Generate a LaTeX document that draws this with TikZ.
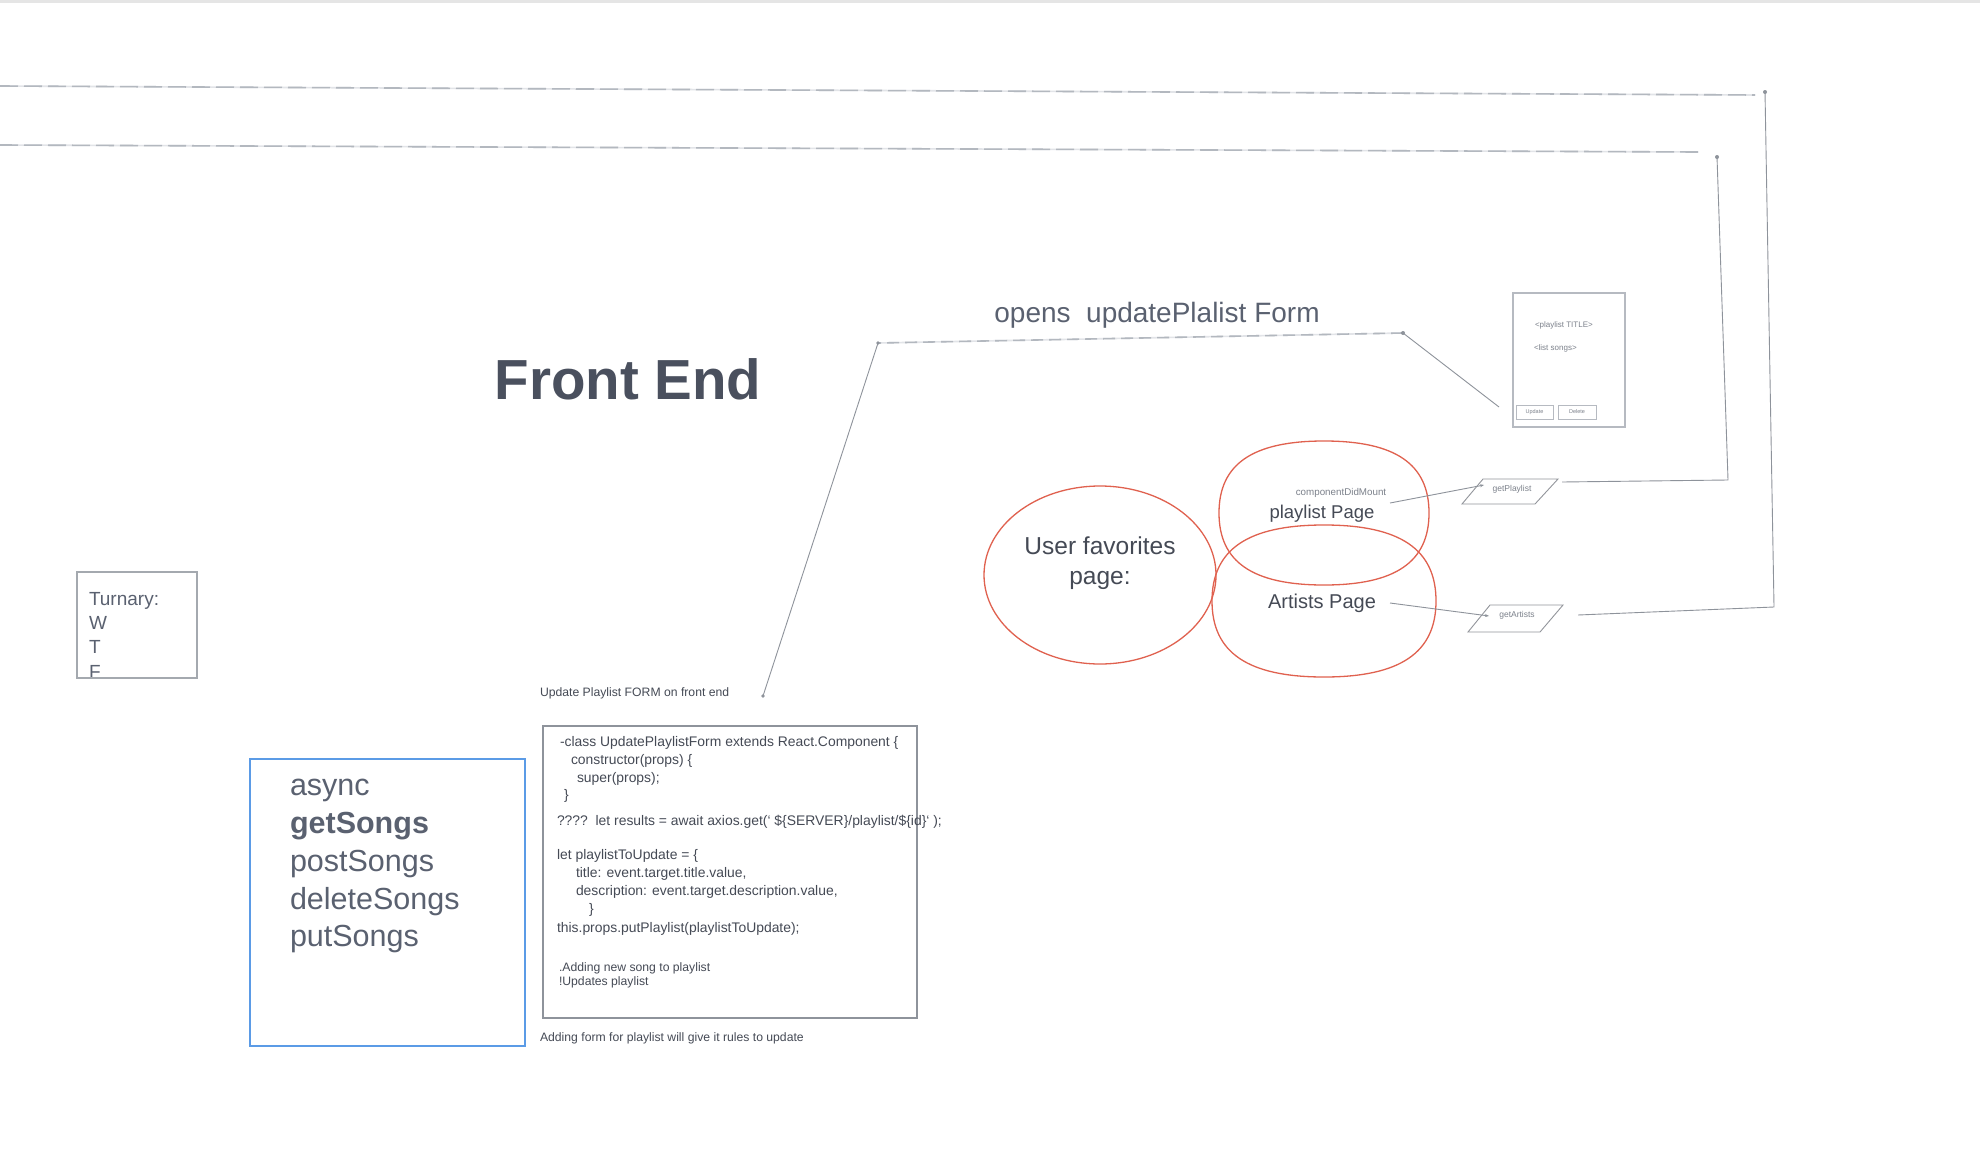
\documentclass[tikz,border=0pt]{standalone}
\usepackage{fontspec}
\setmainfont{Liberation Sans}
\usetikzlibrary{arrows.meta}
\definecolor{slate}{HTML}{4A505E}
\definecolor{listgray}{HTML}{5A6170}
\definecolor{codegray}{HTML}{454A55}
\definecolor{lightline}{HTML}{E2E4E8}
\definecolor{midline}{HTML}{B3B8BF}
\definecolor{darkline}{HTML}{8E939B}
\definecolor{ovalred}{HTML}{E0614F}
\definecolor{boxblue}{HTML}{5B9BE6}
\definecolor{mockgray}{HTML}{B6BAC1}
\definecolor{tinygray}{HTML}{7C818B}
\newcommand\fsz[1]{\fontsize{#1}{#1}\selectfont}
\newcommand\softoval[4]{%
  \draw[redoval] (#1+#3,#2) .. controls (#1+#3,#2-0.68*#4) and (#1+0.68*#3,#2-#4) .. (#1,#2-#4)
   .. controls (#1-0.68*#3,#2-#4) and (#1-#3,#2-0.68*#4) .. (#1-#3,#2)
   .. controls (#1-#3,#2+0.68*#4) and (#1-0.68*#3,#2+#4) .. (#1,#2+#4)
   .. controls (#1+0.68*#3,#2+#4) and (#1+#3,#2+0.68*#4) .. cycle;}
\begin{document}
\begin{tikzpicture}[x=1pt,y=-1pt,
  txt/.style={inner sep=0pt, outer sep=0pt},
  codeline/.style={txt, anchor=mid west, text=codegray, font=\fsz{13.9}},
  smallnote/.style={txt, anchor=mid west, text=codegray, font=\fsz{12.2}},
  songitem/.style={txt, anchor=mid west, text=listgray, font=\fsz{30.5}},
  turn/.style={txt, anchor=mid west, text=listgray, font=\fsz{19}},
  redoval/.style={draw=ovalred, line width=1.3pt},
  dashline/.style={draw=midline, line width=1.6pt, dash pattern=on 18pt off 6pt},
  underline/.style={draw=lightline, line width=1.6pt},
  thinline/.style={draw=darkline, line width=0.9pt},
  dotend/.style={fill=darkline, draw=none},
  smallarrow/.style={thinline, -{Stealth[length=4pt,width=3pt]}}
]
\useasboundingbox (0,0) rectangle (1980,1156);
\fill[white] (0,0) rectangle (1980,1156);
\fill[black!10] (0,0) rectangle (1980,3);

% ---------- long return lines ----------
\coordinate (l1a) at (0,86);
\coordinate (l1b) at (1755,95);
\coordinate (l1c) at (1765,92);
\coordinate (l1d) at (1774,607);
\coordinate (l1e) at (1578,615);
\coordinate (l2a) at (0,145);
\coordinate (l2b) at (1698,152);
\coordinate (l2c) at (1717,157);
\coordinate (l2d) at (1728,480);
\coordinate (l2e) at (1562,482);
\draw[underline] (l1a) -- (l1b);
\draw[dashline] (l1a) -- (l1b);
\draw[underline] (l2a) -- (l2b);
\draw[dashline] (l2a) -- (l2b);
\draw[thinline] (l1c) -- (l1d) -- (l1e);
\draw[thinline] (l2c) -- (l2d) -- (l2e);
\fill[dotend] (l1c) circle (2pt);
\fill[dotend] (l2c) circle (2pt);

% ---------- Front End ----------
\node[txt, text=slate, font=\fsz{56.5}\bfseries] (fe) at (628,379) {Front End};

% ---------- opens updatePlalist Form ----------
\node[txt, text=listgray, font=\fsz{28}] (opens) at (1157,315) {opens\ \ updatePlalist Form};
\coordinate (opR) at (1403,333);
\coordinate (opL) at (878,343);
\coordinate (opD) at (763,696);
\coordinate (mockpt) at (1499,407);
\draw[underline] (opR) -- (opL);
\draw[dashline, dash pattern=on 12pt off 6pt] (opR) -- (opL);
\draw[thinline] (opL) -- (opD);
\draw[thinline] (opR) -- (mockpt);
\fill[dotend] (opR) circle (2pt);
\fill[dotend] (opL) circle (1.8pt);
\fill[dotend] (opD) circle (1.8pt);

% ---------- page mock ----------
\draw[mockgray, line width=1.4pt] (1513,293) rectangle (1625,427);
\node[txt, anchor=mid west, text=tinygray, font=\fsz{8}] (mtitle) at (1535,325) {<playlist TITLE>};
\node[txt, anchor=mid west, text=tinygray, font=\fsz{8}] (msongs) at (1534,348) {<list songs>};
\draw[mockgray, line width=0.9pt] (1516,405) rectangle (1553,419);
\draw[mockgray, line width=0.9pt] (1558,405) rectangle (1596,419);
\node[txt, text=tinygray, font=\fsz{5.5}] (bupd) at (1534.5,412) {Update};
\node[txt, text=tinygray, font=\fsz{5.5}] (bdel) at (1577,412) {Delete};

% ---------- ovals ----------
\draw[redoval] (1100,575) ellipse (116pt and 89pt);
\node[txt, text=codegray, font=\fsz{24.5}, align=center] (ufav) at (1100,563) {User favorites\\[5pt]page:};
\softoval{1324}{513}{105}{72}
\softoval{1324}{601}{112}{76}
\node[txt, text=tinygray, font=\fsz{9.8}] (cdm) at (1341,493) {componentDidMount};
\node[txt, text=codegray, font=\fsz{18.5}] (plpage) at (1322,514) {playlist Page};
\node[txt, text=codegray, font=\fsz{20}] (arpage) at (1322,603) {Artists Page};

% ---------- parallelograms ----------
\draw[mockgray!80!black, line width=0.9pt] (1483,479) -- (1558,479) -- (1535,504) -- (1462,504) -- cycle;
\node[txt, text=tinygray, font=\fsz{8.5}] (gpl) at (1512,489) {getPlaylist};
\draw[mockgray!80!black, line width=0.9pt] (1490,605) -- (1563,605) -- (1540,632) -- (1468,632) -- cycle;
\node[txt, text=tinygray, font=\fsz{8.5}] (gar) at (1517,615) {getArtists};
\coordinate (cdmEnd) at (1390,503);
\coordinate (gplIn) at (1484,485);
\coordinate (arEnd) at (1390,603);
\coordinate (garIn) at (1489,616);
\draw[smallarrow] (cdmEnd) -- (gplIn);
\draw[smallarrow] (arEnd) -- (garIn);

% ---------- Turnary box ----------
\begin{scope}
  \clip (77,572) rectangle (197,678);
  \node[turn] (tur) at (89,603) {Turnary:};
  \node[turn] (tw) at (89,627) {W};
  \node[turn] (tt) at (89,651) {T};
  \node[turn] (tf) at (89,676) {F};
\end{scope}
\draw[darkline!80, line width=1.3pt] (77,572) rectangle (197,678);

% ---------- async box ----------
\draw[boxblue, line width=1.6pt] (250,759) rectangle (525,1046);
\node[songitem] (s1) at (290,793) {async};
\node[songitem, font=\fsz{30.5}\bfseries] (s2) at (290,831) {getSongs};
\node[songitem] (s3) at (290,869) {postSongs};
\node[songitem] (s4) at (290,907) {deleteSongs};
\node[songitem] (s5) at (290,944) {putSongs};

% ---------- code box ----------
\node[smallnote] (formcap) at (540,694) {Update Playlist FORM on front end};
\draw[darkline, line width=1.6pt] (543,726) rectangle (917,1018);
\node[codeline] (c1) at (560,744) {-class UpdatePlaylistForm extends React.Component \{};
\node[codeline] (c2) at (571,762) {constructor(props) \{};
\node[codeline] (c3) at (577,780) {super(props);};
\node[codeline] (c4) at (564,797) {\}};
\node[codeline] (c5) at (557,823) {????\ \ let results = await axios.get(` \$\{SERVER\}/playlist/\$\{id\}` );};
\node[codeline] (c6) at (557,857) {let playlistToUpdate = \{};
\node[codeline] (c7) at (576,875) {title: event.target.title.value,};
\node[codeline] (c8) at (576,893) {description: event.target.description.value,};
\node[codeline] (c9) at (589,911) {\}};
\node[codeline] (c10) at (557,930) {this.props.putPlaylist(playlistToUpdate);};
\node[smallnote] (c11) at (559,969) {.Adding new song to playlist};
\node[smallnote] (c12) at (559,983) {!Updates playlist};
\node[smallnote] (rulecap) at (540,1039) {Adding form for playlist will give it rules to update};
\end{tikzpicture}
\end{document}
